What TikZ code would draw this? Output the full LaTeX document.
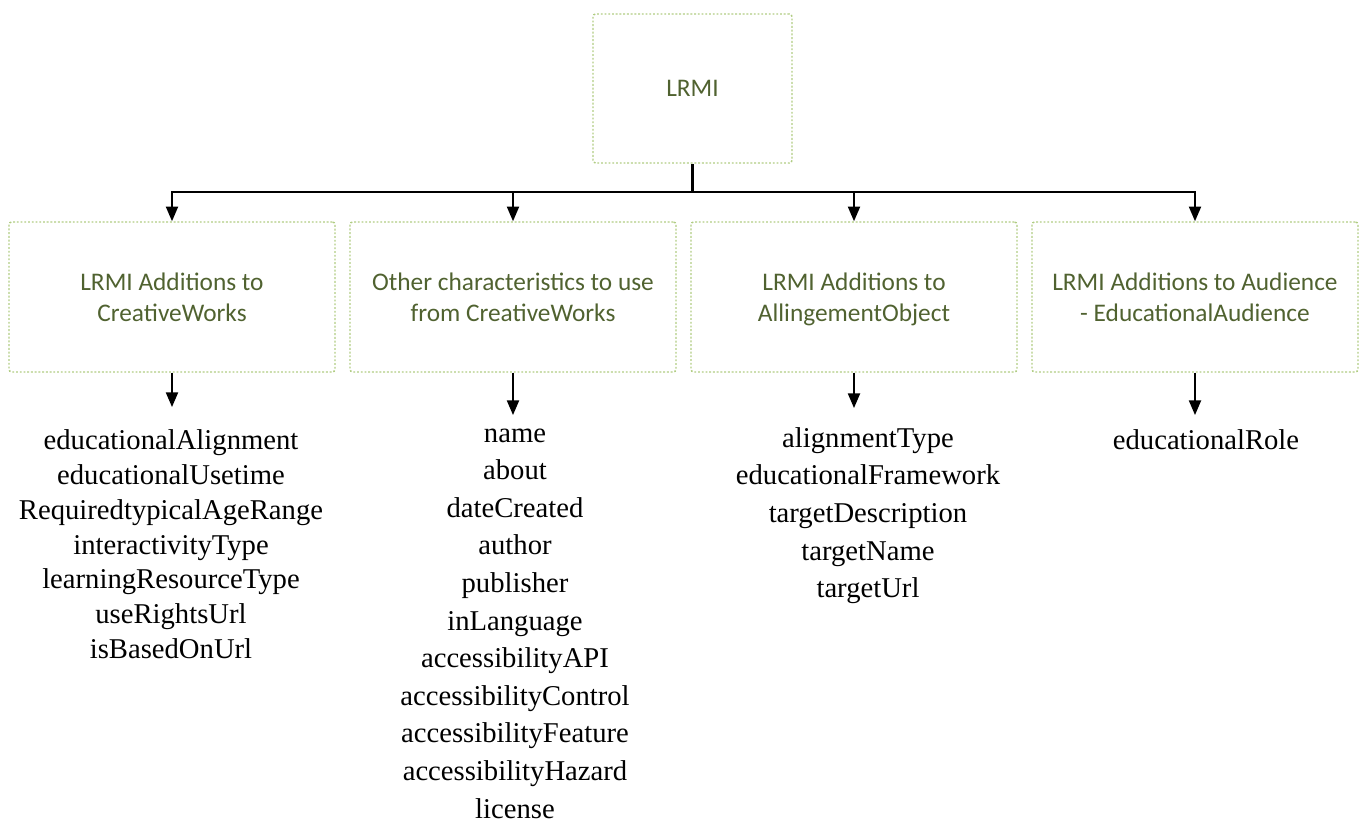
\documentclass[tikz,border=0pt]{standalone}
\usepackage{fontspec}
\setmainfont{Liberation Serif}
\newfontfamily\boxfont{Carlito}
\usetikzlibrary{arrows.meta}
\definecolor{boxline}{RGB}{176,204,130}
\definecolor{boxtext}{RGB}{80,98,48}
\begin{document}
\begin{tikzpicture}[x=0.75pt,y=-0.75pt,
  catbox/.style={draw=boxline, line width=1.1pt, dash pattern=on 1.4pt off 1.4pt,
    rounded corners=2pt, minimum width=244.5pt, minimum height=112.5pt,
    align=center, font=\boxfont\fontsize{19}{23.25}\selectfont, text=boxtext,
    inner sep=0pt, text depth=0pt},
  item/.style={font=\fontsize{21.5}{26}\selectfont, inner sep=0pt, anchor=base,
    text height=15pt, text depth=4pt},
  link/.style={line width=1.5pt, -{Triangle[length=11pt,width=9pt]}},
  stem/.style={line width=2.2pt}]
\useasboundingbox (0,0) rectangle (1360,823);

% category boxes
\node[catbox, minimum width=149.25pt, minimum height=111.75pt] (root) at (692.5,88.5) {LRMI};
\node[catbox] (cw)    at (172,297)  {LRMI Additions to\\CreativeWorks};
\node[catbox] (other) at (513,297)  {Other characteristics to use\\from CreativeWorks};
\node[catbox] (align) at (854,297)  {LRMI Additions to\\AllingementObject};
\node[catbox] (aud)   at (1195,297) {LRMI Additions to Audience\\- EducationalAudience};

% tree connectors
\path (root.south) ++(0,28) coordinate (hub);
\draw[stem] (root.south) -- (hub);
\foreach \b in {cw,other,align,aud}
  \draw[link] (hub) -| (\b.north);

% property lists
\foreach \t [count=\i] in {educationalAlignment,educationalUsetime,RequiredtypicalAgeRange,
    interactivityType,learningResourceType,useRightsUrl,isBasedOnUrl}
  \node[item] (L\i) at (171,{450+34.7*(\i-1)}) {\t};

\foreach \t [count=\i] in {name,about,dateCreated,author,publisher,inLanguage,
    accessibilityAPI,accessibilityControl,accessibilityFeature,accessibilityHazard,license}
  \node[item] (M\i) at (515,{442+37.6*(\i-1)}) {\t};

\foreach \t [count=\i] in {alignmentType,educationalFramework,targetDescription,targetName,targetUrl}
  \node[item] (R\i) at (868,{447+37.7*(\i-1)}) {\t};

\node[item] (E1) at (1206,450) {educationalRole};

% arrows from boxes to their lists
\draw[link, shorten >=17pt] (cw.south) -- (cw.south |- L1.north);
\draw[link, shorten >=5pt] (other.south) -- (other.south |- M1.north);
\draw[link, shorten >=14pt] (align.south) -- (align.south |- R1.north);
\draw[link, shorten >=11pt] (aud.south) -- (aud.south |- E1.north);
\end{tikzpicture}
\end{document}
